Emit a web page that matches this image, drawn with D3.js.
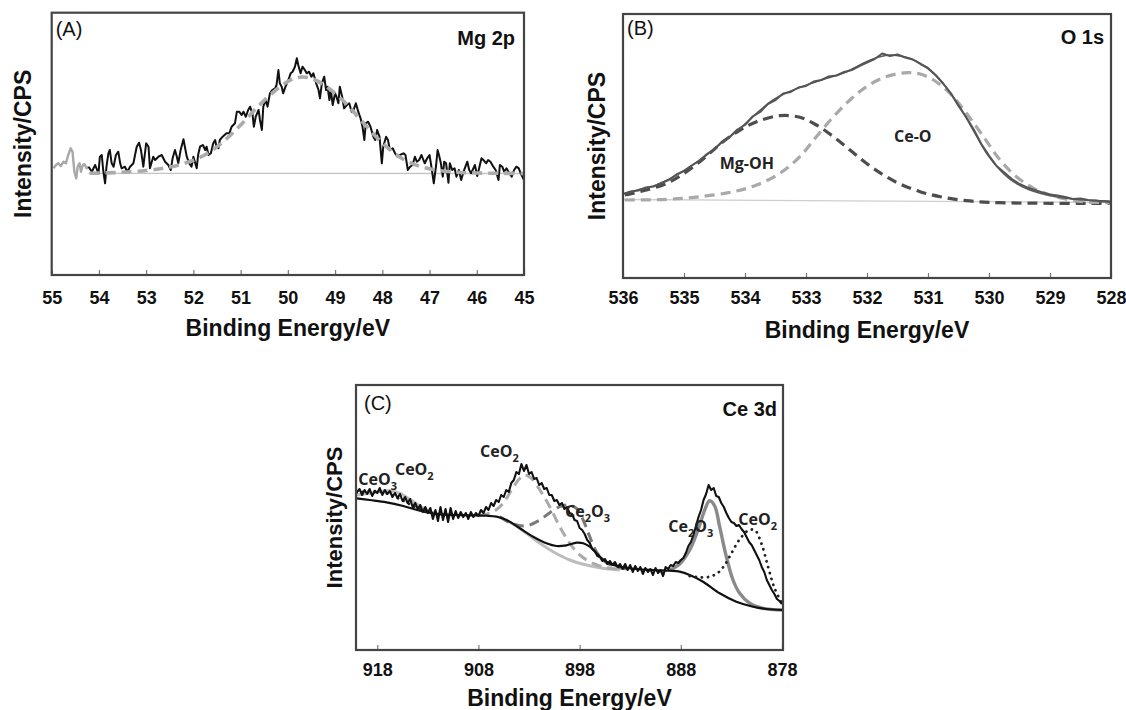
<!DOCTYPE html>
<html>
<head>
<meta charset="utf-8">
<script src="https://cdn.jsdelivr.net/npm/d3@7"></script>
<style>
  body { margin: 0; background: #fff; }
  svg { display: block; }
</style>
</head>
<body>
<svg id="chart" width="1126" height="710"></svg>
<script>
// ---------- (A) Mg 2p ----------
const mgTicks = [55, 54, 53, 52, 51, 50, 49, 48, 47, 46, 45];
// grey leading part of the scan
const mgLead = [[54.96,106.7],[54.91,110],[54.86,111.7],[54.81,109],[54.75,113.3],[54.70,111.7],[54.65,120],[54.60,126.7],[54.56,123.3],[54.52,103.3],[54.48,96.7],[54.45,108.3],[54.41,111.7],[54.38,103.3],[54.34,110],[54.31,111],[54.26,106.7],[54.22,108.3]];
const mgRaw = [[54.22,108.3],[54.15,103.3],[54.08,110],[54.01,101.7],[53.98,118.3],[53.94,120],[53.91,105],[53.87,91.7],[53.84,108.3],[53.80,121.7],[53.77,125],[53.73,111.7],[53.69,108.3],[53.64,120],[53.59,123.3],[53.55,111.7],[53.52,106.7],[53.45,108.3],[53.40,103.3],[53.34,108.3],[53.27,111.7],[53.20,128.3],[53.15,132.3],[53.11,125],[53.06,108.3],[53.00,131.7],[52.95,128.3],[52.92,106.7],[52.85,118.3],[52.81,115],[52.74,118.3],[52.67,120],[52.60,113.3],[52.53,110],[52.48,105],[52.44,116.7],[52.39,125],[52.35,118.3],[52.32,111.7],[52.27,125],[52.21,135.7],[52.18,128.3],[52.14,118.3],[52.09,111.7],[52.04,108.3],[52.00,118.3],[51.97,113.3],[51.93,106.7],[51.90,120],[51.86,128.3],[51.80,130],[51.75,125],[51.72,128.3],[51.68,120],[51.63,121.7],[51.58,131.7],[51.54,135],[51.51,128.3],[51.47,126.7],[51.44,135],[51.38,138.3],[51.34,140],[51.30,141.7],[51.24,141.7],[51.19,148.3],[51.12,151.7],[51.08,163.3],[51.03,163.3],[50.98,160],[50.94,163.3],[50.89,158.3],[50.84,165],[50.80,168.3],[50.75,161.7],[50.72,148.3],[50.68,158.3],[50.62,165],[50.59,155],[50.55,145],[50.52,168.3],[50.47,175],[50.43,168.3],[50.38,181.7],[50.33,185],[50.27,186.7],[50.24,190],[50.20,205],[50.17,191.7],[50.13,188.3],[50.10,181.7],[50.05,188.3],[49.99,195],[49.94,201.7],[49.90,203.3],[49.85,208.3],[49.81,216.7],[49.78,210],[49.73,201.7],[49.69,208.3],[49.64,205],[49.60,201.7],[49.55,203.3],[49.50,198.3],[49.46,201.7],[49.40,191.7],[49.35,185],[49.32,176.7],[49.28,191.7],[49.23,198.3],[49.19,185],[49.16,188.3],[49.12,175],[49.09,185],[49.05,170],[49.00,181.7],[48.97,178.3],[48.93,171.7],[48.90,188.3],[48.85,178.3],[48.81,166.7],[48.75,170],[48.70,171.7],[48.65,163.3],[48.61,165],[48.56,171.7],[48.51,163.3],[48.46,156.7],[48.42,148.3],[48.38,135],[48.35,151.7],[48.30,153.3],[48.25,148.3],[48.19,138.3],[48.15,135],[48.11,145],[48.06,138.3],[48.01,111.7],[47.98,128.3],[47.92,138.3],[47.88,135],[47.84,125],[47.78,126.7],[47.73,121.7],[47.68,118.3],[47.63,120],[47.55,121.7],[47.51,120],[47.46,105],[47.41,108.3],[47.36,110],[47.31,118.3],[47.27,113.3],[47.22,115],[47.17,120],[47.13,115],[47.10,111.7],[47.05,116.7],[47.00,120],[46.95,105],[46.91,91.7],[46.86,110],[46.83,125],[46.80,120],[46.76,111.7],[46.72,98.3],[46.69,113.3],[46.65,111.7],[46.60,92.3],[46.57,111.7],[46.52,105],[46.47,106.7],[46.43,98.3],[46.38,105],[46.33,95],[46.28,103.3],[46.24,108.3],[46.20,113.3],[46.16,105],[46.12,101.7],[46.07,106.7],[46.04,110],[45.99,99],[45.95,106.7],[45.90,116.7],[45.86,115],[45.80,111.7],[45.76,115],[45.71,113.3],[45.65,108.3],[45.60,105],[45.54,95],[45.51,110],[45.46,108.3],[45.42,103.3],[45.37,106.7],[45.31,101.7],[45.26,98.3],[45.21,105],[45.16,108.3],[45.11,106.7],[45.07,101.7],[45.00,95]];
const mgFit = [[54.2,101.7],[53.6,102.5],[53.0,104.5],[52.6,107],[52.2,111.5],[51.8,119],[51.4,132],[51.0,150],[50.6,170],[50.2,187],[49.9,196],[49.7,198],[49.5,196.5],[49.2,189],[48.8,173],[48.4,152],[48.0,132],[47.6,117],[47.2,108.5],[46.8,104.5],[46.4,102.7],[46.0,102],[45.5,101.7],[45.0,101.5]];
const mgBase = [[54.22,101.7],[45.0,101.5]];

// ---------- (B) O 1s ----------
const oTicks = [536, 535, 534, 533, 532, 531, 530, 529, 528];
const oRawStart = 536, oRawStep = 0.125;
const oRaw = [84,86.5,87.5,90.5,91.5,95,98,103.5,
  107,112.5,117,124,129,136.5,141,148.5,
  153,161.5,166,174,178,184.5,186,190.5,
  192,196.5,198,201.5,202.5,206,208,212,
  215.5,219,224.5,222,223.5,220.5,218.5,214,
  210,203,194.5,184.5,172,161,148.5,134,
  122.5,112,105.5,99,94,90.5,88,85.5,
  83.5,82.5,81,79,79.5,78,77.5,76.5,
  76];
const oEnvelope = [[535.97,84.7],[535.72,88.7],[535.45,93],[535.17,101.3],[534.90,111.3],[534.63,123],[534.36,136.3],[534.08,149.7],[533.81,164.7],[533.54,178],[533.32,185.3],[532.99,193],[532.66,199.7],[532.33,206.3],[532.01,216.3],[531.79,221.3],[531.62,223],[531.46,222],[531.30,219.7],[531.13,214.7],[530.91,204.7],[530.69,189.7],[530.48,171.3],[530.26,148],[530.04,124.7],[529.82,108],[529.60,96.3],[529.33,88],[529.05,83],[528.73,79.7],[528.45,78],[528.18,77.3],[528.02,77]];
const oMgOH = [[535.97,83],[535.28,94.7],[534.74,116.3],[534.36,136.3],[534.08,148],[533.81,156.3],[533.43,162.3],[533.10,160.7],[532.83,153],[532.55,141.3],[532.28,128],[532.01,114.7],[531.73,103],[531.46,94],[531.13,86.3],[530.80,81.3],[530.37,77.3],[529.82,75.3],[528.02,74.7]];
const oCeO = [[535.97,78],[535.28,78.7],[534.74,81.3],[534.19,86.3],[533.81,93],[533.43,104.7],[533.10,121.3],[532.83,141.3],[532.55,161.3],[532.28,178],[532.01,191.3],[531.73,200.3],[531.46,204.7],[531.30,205.3],[531.13,204],[530.91,198],[530.64,184.7],[530.37,164.7],[530.09,141.3],[529.82,118],[529.55,101.3],[529.27,89.7],[529.00,83],[528.73,78.7],[528.45,76.3],[528.02,75.3]];
const oBase = [[536,78.5],[528,75.5]];
const oLabels = [{text: 'Mg-OH', e: 533.97, i: 109}, {text: 'Ce-O', e: 531.25, i: 136}];

// ---------- (C) Ce 3d ----------
const ceTicks = [918, 908, 898, 888, 878];
const ceRawStart = 920, ceRawStep = 0.25;
const ceRaw = [158,161,155,160, 156,161,154,159, 157,162,155,160, 156,159,153,157,
  152,156,149,153, 147,151,143,147, 141,145,138,143, 137,142,131,140,
  129,143,130,141, 128,142,131,139, 132,138,133,137, 131,138,133,137,
  134,140,137,143, 140,147,144,150, 148,155,153,160, 158,167,170,178,
  176,186,179,185, 176,178,171,172, 165,167,161,162, 155,155,149,150,
  145,147,141,143, 137,136,130,129, 122,120,116,110, 107,101,99,94,
  93,89,91,86, 89,85,88,83, 86,81,86,80, 85,78,84,79,
  83,76,82,78, 81,75,82,77, 80,74,83,81, 85,84,88,87,
  90,92,97,104, 108,115,124,133, 140,150,156,165, 160,162,154,153,
  147,143,137,132, 128,127,124,125, 121,118,113,108, 105,100,95,90,
  83,78,70,65, 60,56,51,49, 46];
const ceBackground = [[920.04,151.7],[918.72,150],[917.08,147.7],[915.43,144],[913.79,139.3],[912.14,136],[910.49,135],[908.85,134.7],[907.20,134.3],[906.21,133.3],[905.23,130],[903.91,121.7],[902.59,113.3],[901.28,106.7],[900.29,104],[899.30,104.7],[898.31,107.3],[897.65,106.7],[897.00,103.3],[896.34,96.7],[895.35,88.3],[894.03,83.3],[892.39,81],[890.74,80],[889.09,79.3],[888.11,78.3],[887.12,75],[885.80,68.3],[884.16,56.7],[882.51,48.3],[880.86,43.3],[879.55,41],[877.90,40]];
const ceLeftPeak = [[920.04,155],[918.72,156.7],[917.41,159],[916.75,159.3],[915.76,156.7],[914.77,150.7],[913.79,144],[912.80,138.3],[911.81,136],[910.49,135]];
const ceLeftDots = [[920.04,157.3],[918.40,159],[917.08,156.7],[915.43,149.3],[913.79,140.7],[912.14,136]];
const ceMidCeO2 = [[907.86,134.7],[906.54,138.3],[905.56,146.7],[904.73,160],[903.91,171.7],[903.42,175],[902.76,171.7],[901.93,160],[900.95,143.3],[899.96,123.3],[898.97,106.7],[897.98,95],[896.67,86.7],[895.35,82.3],[894.03,80.7]];
const ceMidCe2O3 = [[905.88,133.3],[904.57,126],[903.25,124.3],[901.93,130],[900.95,137.3],[899.96,143.3],[899.14,145],[898.31,141.7],[897.65,130],[897.00,113.3],[896.34,98.3],[895.35,87.3],[894.03,82.3],[892.72,80.7]];
const ceMidLower = [[905.88,132.7],[904.57,126],[903.25,116.7],[901.93,106.7],[900.62,98.3],[898.97,90],[897.33,85],[895.68,81.7],[894.03,80]];
const ceCe2O3 = [[889.09,80],[888.11,86],[887.12,100],[886.30,120],[885.64,140],[885.15,149.3],[884.65,144],[884.16,123.3],[883.50,93.3],[882.84,70],[882.18,56.7],[881.19,46.7],[879.88,41.7],[877.90,40]];
const ceCeO2 = [[887.12,74],[886.13,72.7],[885.15,73.3],[884.32,77.3],[883.66,85],[883.00,96.7],[882.18,110.7],[881.36,119.3],[880.70,120],[880.04,106.7],[879.38,83.3],[878.73,61.7],[877.90,45]];
const ceLabels = [
  {parts: [['CeO'], ['3', true]], e: 919.87, i: 165},
  {parts: [['CeO'], ['2', true]], e: 916.25, i: 175},
  {parts: [['CeO'], ['2', true]], e: 907.84, i: 193},
  {parts: [['Ce'], ['2', true], ['O'], ['3', true]], e: 899.44, i: 133},
  {parts: [['Ce'], ['2', true], ['O'], ['3', true]], e: 889.23, i: 118},
  {parts: [['CeO'], ['2', true]], e: 882.32, i: 125}
];

const svg = d3.select('#chart');
const ARIAL = '"Liberation Sans", Arial, sans-serif';
const LABEL_FONT = '"Open Sans", "Noto Sans", sans-serif';

function makePanel(cfg){
    const x = d3.scaleLinear().domain(cfg.xDomain).range([cfg.left, cfg.right]);
    const y = d3.scaleLinear().domain(cfg.yDomain).range([cfg.bottom, cfg.top]);
    const g = svg.append('g').attr('class', 'panel');

    const clipId = 'clip-' + cfg.key;
    g.append('clipPath').attr('id', clipId)
        .append('rect')
        .attr('x', cfg.left).attr('y', cfg.top)
        .attr('width', cfg.right - cfg.left).attr('height', cfg.bottom - cfg.top);
    const plot = g.append('g').attr('clip-path', `url(#${clipId})`);

    // bottom axis, small ticks pointing into the plot
    const axis = g.append('g')
        .attr('transform', `translate(0,${cfg.bottom})`)
        .attr('font-family', null).attr('font-size', null)
        .call(d3.axisBottom(x).tickValues(cfg.ticks).tickFormat(d3.format('d'))
            .tickSizeInner(-5).tickSizeOuter(0).tickPadding(cfg.tickPad));
    axis.select('.domain').remove();
    axis.selectAll('.tick line').attr('stroke', '#777').attr('stroke-width', 1.2);
    axis.selectAll('.tick text')
        .attr('font-family', ARIAL).attr('font-weight', 'bold')
        .attr('font-size', 18).attr('fill', '#111');

    g.append('rect')
        .attr('x', cfg.left).attr('y', cfg.top)
        .attr('width', cfg.right - cfg.left).attr('height', cfg.bottom - cfg.top)
        .attr('fill', 'none').attr('stroke', '#444').attr('stroke-width', 2.2);

    g.append('text')
        .attr('x', (cfg.left + cfg.right)/2).attr('y', cfg.xTitleY)
        .attr('text-anchor', 'middle')
        .style('font-family', ARIAL).style('font-weight', 'bold')
        .style('font-size', '23px').style('fill', '#111')
        .text('Binding Energy/eV');

    g.append('text')
        .attr('transform', `translate(${cfg.yTitleX},${(cfg.top + cfg.bottom)/2}) rotate(-90)`)
        .attr('text-anchor', 'middle')
        .style('font-family', ARIAL).style('font-weight', 'bold')
        .style('font-size', cfg.yTitleSize + 'px').style('fill', '#111')
        .text('Intensity/CPS');

    g.append('text')
        .attr('x', cfg.left + cfg.tagDx).attr('y', cfg.top + cfg.tagDy)
        .style('font-family', ARIAL).style('font-size', '20px').style('fill', '#111')
        .text(cfg.tag);

    g.append('text')
        .attr('x', cfg.right - cfg.nameDx).attr('y', cfg.top + cfg.nameDy)
        .attr('text-anchor', 'end')
        .style('font-family', ARIAL).style('font-weight', 'bold')
        .style('font-size', '20px').style('fill', '#111')
        .text(cfg.name);

    return {g, plot, x, y};
}

function drawLine(p, data, style, curve){
    const line = d3.line()
        .x(d => p.x(d[0]))
        .y(d => p.y(d[1]))
        .curve(curve || d3.curveLinear);
    p.plot.append('path')
        .datum(data)
        .attr('d', line)
        .attr('fill', 'none')
        .attr('stroke', style.color)
        .attr('stroke-width', style.width)
        .attr('stroke-dasharray', style.dash || null)
        .attr('stroke-linecap', style.cap || 'butt')
        .attr('stroke-linejoin', 'round');
}

function gridSeries(start, step, values){
    return values.map((v, k) => [start - k*step, v]);
}

const smooth = d3.curveCatmullRom.alpha(0.5);

// ----- panel A -----
const pA = makePanel({
    key: 'a', tag: '(A)', name: 'Mg 2p',
    left: 51.7, right: 524, top: 12.7, bottom: 275,
    xDomain: [55, 45], yDomain: [0, 262.3], ticks: mgTicks, tickPad: 16.5,
    xTitleY: 336, yTitleX: 31, yTitleSize: 23,
    tagDx: 4, tagDy: 23, nameDx: 9, nameDy: 32
});
drawLine(pA, mgBase, {color: '#c4c4c4', width: 1.3});
drawLine(pA, mgLead, {color: '#a8a8a8', width: 2.4});
drawLine(pA, mgRaw, {color: '#111', width: 2});
drawLine(pA, mgFit, {color: '#ababab', width: 3.6, dash: '10,6'}, smooth);

// ----- panel B -----
const pB = makePanel({
    key: 'b', tag: '(B)', name: 'O 1s',
    left: 623, right: 1111, top: 14, bottom: 278,
    xDomain: [536, 528], yDomain: [0, 264], ticks: oTicks, tickPad: 13.5,
    xTitleY: 338, yTitleX: 605, yTitleSize: 23,
    tagDx: 4, tagDy: 21, nameDx: 7, nameDy: 30
});
drawLine(pB, oBase, {color: '#cfcfcf', width: 1.3});
drawLine(pB, oMgOH, {color: '#4d4d4d', width: 3.2, dash: '10,6'}, smooth);
drawLine(pB, oCeO, {color: '#a9a9a9', width: 3.2, dash: '10,6'}, smooth);
drawLine(pB, oEnvelope, {color: '#5a5a5a', width: 1.6}, smooth);
drawLine(pB, gridSeries(oRawStart, oRawStep, oRaw), {color: '#555', width: 2});

pB.g.selectAll('.peak-label')
    .data(oLabels)
    .join('text')
    .attr('class', 'peak-label')
    .attr('x', d => pB.x(d.e))
    .attr('y', d => pB.y(d.i))
    .attr('text-anchor', 'middle')
    .style('font-family', LABEL_FONT).style('font-weight', 'bold')
    .style('font-size', '16px').style('fill', '#222')
    .text(d => d.text);

// ----- panel C -----
const pC = makePanel({
    key: 'c', tag: '(C)', name: 'Ce 3d',
    left: 356, right: 783, top: 385, bottom: 650,
    xDomain: [920.1, 877.9], yDomain: [0, 265], ticks: ceTicks, tickPad: 13.5,
    xTitleY: 706, yTitleX: 342, yTitleSize: 22,
    tagDx: 8, tagDy: 25, nameDx: 6, nameDy: 31
});
drawLine(pC, ceLeftPeak, {color: '#bdbdbd', width: 3}, smooth);
drawLine(pC, ceMidLower, {color: '#bdbdbd', width: 3}, smooth);
drawLine(pC, ceMidCeO2, {color: '#ababab', width: 3, dash: '10,6'}, smooth);
drawLine(pC, ceMidCe2O3, {color: '#7a7a7a', width: 3, dash: '10,6'}, smooth);
drawLine(pC, ceCe2O3, {color: '#8a8a8a', width: 3.4}, smooth);
drawLine(pC, ceBackground, {color: '#111', width: 2.2}, smooth);
drawLine(pC, ceLeftDots, {color: '#222', width: 2.8, dash: '0.1,6', cap: 'round'}, smooth);
drawLine(pC, ceCeO2, {color: '#222', width: 2.8, dash: '0.1,6', cap: 'round'}, smooth);
drawLine(pC, gridSeries(ceRawStart, ceRawStep, ceRaw), {color: '#111', width: 2.1});

pC.g.selectAll('.peak-label')
    .data(ceLabels)
    .join('text')
    .attr('class', 'peak-label')
    .attr('x', d => pC.x(d.e))
    .attr('y', d => pC.y(d.i))
    .style('font-family', LABEL_FONT).style('font-weight', 'bold').style('fill', '#222')
    .each(function(d){
        const t = d3.select(this);
        let shifted = false;
        for(const [s, sub] of d.parts){
            t.append('tspan')
                .attr('dy', sub ? 5 : (shifted ? -5 : 0))
                .style('font-size', sub ? '11px' : '16px')
                .text(s);
            shifted = !!sub;
        }
    });
</script>
</body>
</html>
